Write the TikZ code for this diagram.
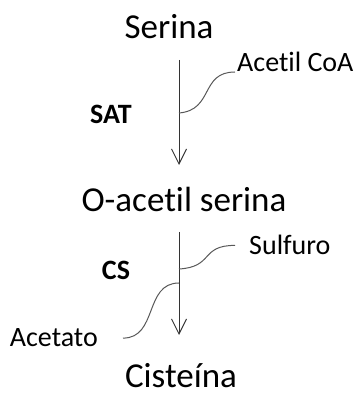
\documentclass[tikz,border=0pt]{standalone}
\usepackage{fontspec}
\setmainfont[Ligatures=NoCommon]{Carlito}
\usetikzlibrary{positioning}
\usetikzlibrary{arrows.meta}
\usetikzlibrary{calc}
\tikzset{
  % A metabolite of the pathway
  metab/.style={inner sep=2pt, font=\fontsize{35}{42}\selectfont},
  % A co-substrate or by-product on a side branch
  cofactor/.style={inner sep=2pt, font=\fontsize{28}{34}\selectfont},
  % The enzyme of a step
  enzyme/.style={inner sep=2pt, font=\fontsize{28}{34}\selectfont\bfseries},
  % Connectors
  reaction/.style={-{Straight Barb[length=15pt, width=15pt]}, draw=black!80, line width=1pt},
  branch/.style={draw=black!65, line width=1pt},
}
\begin{document}
\begin{tikzpicture}[x=1pt, y=1pt]
  \useasboundingbox (0,0) rectangle (355,399);

  % --- Metabolites ------------------------------------------------------
  \node[metab, anchor=base] (serina)   at (169,360) {Serina};
  \node[metab, anchor=base] (oacetil)  at (184,187) {O-acetil serina};
  \node[metab, anchor=base] (cisteina) at (181,12)  {Cisteína};

  % --- Enzymes and side substrates ---------------------------------------
  \node[enzyme, anchor=base]        (sat)       at (111,275) {SAT};
  \node[cofactor, anchor=base west] (acetilcoa) at (235,327) {Acetil CoA};
  \node[enzyme, anchor=base]        (cs)        at (116,119) {CS};
  \node[cofactor, anchor=base west] (sulfuro)   at (247,144) {Sulfuro};
  \node[cofactor, anchor=base east] (acetato)   at (100,52)  {Acetato};

  % --- Points on the reaction arrows -------------------------------------
  \coordinate (r1top) at (179,339);
  \coordinate (r1bot) at (179,234);
  \coordinate (r2top) at (179,167);
  \coordinate (r2bot) at (179,64);
  \coordinate (in1)   at (179,286);
  \coordinate (in2)   at (179,130);
  \coordinate (out2)  at (179,116);

  % --- Reactions ---------------------------------------------------------
  \draw[reaction] (r1top) -- (r1bot);
  \draw[reaction] (r2top) -- (r2bot);

  \draw[branch] (in1) .. controls +(35,3) and +(-35,0) .. (acetilcoa.base west);
  \draw[branch] (in2) .. controls +(35,2) and +(-35,0) .. ([xshift=-12pt]sulfuro.west);
  \draw[branch] (out2) .. controls +(-35,0) and +(35,0) .. ([xshift=23pt]acetato.east);

\end{tikzpicture}
\end{document}
